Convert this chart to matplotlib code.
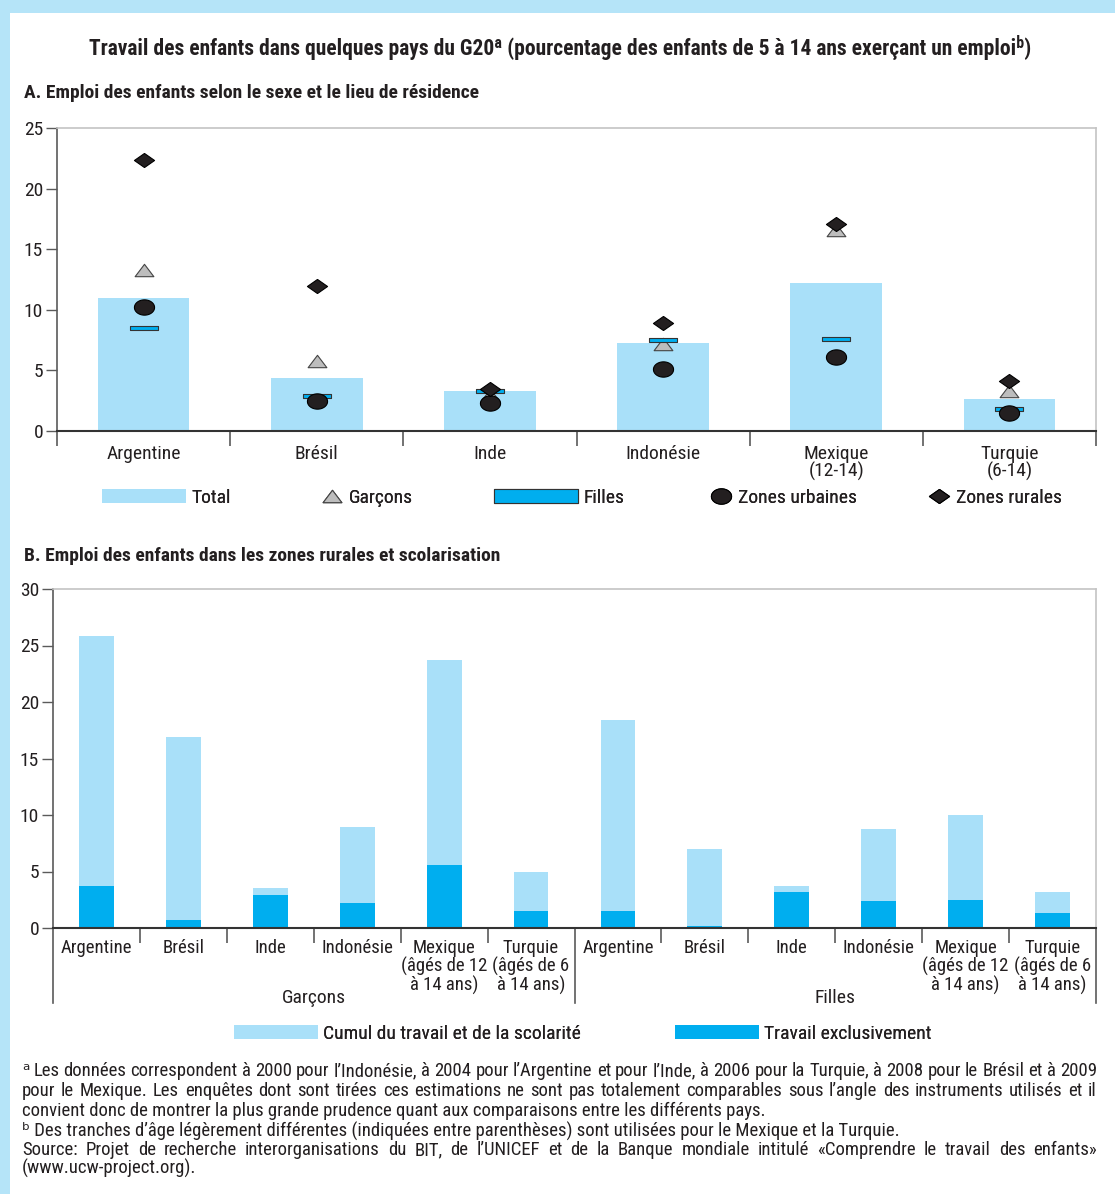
import numpy as np
import matplotlib
matplotlib.use("Agg")
import matplotlib.pyplot as plt
from matplotlib.path import Path
from matplotlib.patches import Patch, Rectangle
from matplotlib.lines import Line2D
from matplotlib import font_manager as fm
import matplotlib.transforms as mtransforms

# condensed face if the machine has one, DejaVu Sans otherwise
installed = {f.name for f in fm.fontManager.ttflist}
narrow = [f for f in ['Roboto Condensed', 'Liberation Sans Narrow', 'Archivo Narrow'] if f in installed]
plt.rcParams['font.family'] = narrow[:1] + ['DejaVu Sans']
fs = 13 if narrow else 10.5

# Panel A data
pays_a = ['Argentine', 'Brésil', 'Inde', 'Indonésie', 'Mexique\n(12-14)', 'Turquie\n(6-14)']
total = [11.0, 4.4, 3.3, 7.3, 12.2, 2.6]
garcons = [13.3, 5.8, 3.0, 7.2, 16.6, 3.3]
filles = [8.5, 2.9, 3.3, 7.5, 7.6, 1.8]
urbaines = [10.2, 2.5, 2.3, 5.1, 6.1, 1.5]
rurales = [22.4, 12.0, 3.5, 8.9, 17.1, 4.1]

# Panel B data
pays_b = ['Argentine', 'Brésil', 'Inde', 'Indonésie', 'Mexique\n(âgés de 12\nà 14 ans)',
          'Turquie\n(âgés de 6\nà 14 ans)']
groupes = ['Garçons', 'Filles']
excl_garcons = [3.7, 0.7, 2.9, 2.2, 5.6, 1.5]
cumul_garcons = [22.1, 16.2, 0.6, 6.7, 18.1, 3.5]
excl_filles = [1.5, 0.2, 3.2, 2.4, 2.5, 1.3]
cumul_filles = [16.9, 6.8, 0.5, 6.4, 7.5, 1.9]

# footnote lines and whether each is justified
notes = [
    ("ᵃ Les données correspondent à 2000 pour l’Indonésie, à 2004 pour l’Argentine et pour l’Inde, "
     "à 2006 pour la Turquie, à 2008 pour le Brésil et à 2009", True),
    ("pour le Mexique. Les enquêtes dont sont tirées ces estimations ne sont pas totalement comparables "
     "sous l’angle des instruments utilisés et il", True),
    ("convient donc de montrer la plus grande prudence quant aux comparaisons entre les différents pays.", False),
    ("ᵇ Des tranches d’âge légèrement différentes (indiquées entre parenthèses) sont utilisées pour "
     "le Mexique et la Turquie.", False),
    ("Source: Projet de recherche interorganisations du BIT, de l’UNICEF et de la Banque mondiale "
     "intitulé «Comprendre le travail des enfants»", True),
    ("(www.ucw-project.org).", False),
]

light = '#a9e0f9'
blue = '#00aeef'
dark = '#231f20'
grey_marker = '#bdbdbd'
frame = '#b5e4f8'

# custom markers
def closed(pts):
    pts = pts + [pts[0]]
    return Path(pts, [Path.MOVETO] + [Path.LINETO] * (len(pts) - 2) + [Path.CLOSEPOLY])

dash_m = closed([(-1, -0.18), (1, -0.18), (1, 0.18), (-1, 0.18)])
tri_m = closed([(-1, -0.66), (1, -0.66), (0, 0.66)])
th = np.linspace(0, 2 * np.pi, 60)
ell_m = Path(np.column_stack([np.cos(th), 0.76 * np.sin(th)]))
diam_m = closed([(-1, 0), (0, 0.7), (1, 0), (0, -0.7)])

fig = plt.figure(figsize=(11.15, 11.94), dpi=100)
W, H = 1115, 1194

# light blue frame band on top and left
fig.patches.append(Rectangle((0, 1 - 13 / H), 1, 13 / H, transform=fig.transFigure,
                             facecolor=frame, edgecolor='none', zorder=0))
fig.patches.append(Rectangle((0, 0), 10 / W, 1, transform=fig.transFigure,
                             facecolor=frame, edgecolor='none', zorder=0))

fig.text(560 / W, 1 - 48 / H,
         'Travail des enfants dans quelques pays du G20ᵃ (pourcentage des enfants de 5 à 14 ans exerçant un emploiᵇ)',
         ha='center', va='center', fontsize=fs + 2.5, fontweight='bold', color=dark)
fig.text(24 / W, 1 - 93 / H, 'A. Emploi des enfants selon le sexe et le lieu de résidence',
         ha='left', va='center', fontsize=fs + 1, fontweight='bold', color=dark)
fig.text(24 / W, 1 - 556 / H, 'B. Emploi des enfants dans les zones rurales et scolarisation',
         ha='left', va='center', fontsize=fs + 1, fontweight='bold', color=dark)


def style_axes(ax, pad):
    for s in ['top', 'right']:
        ax.spines[s].set_color('#c4c4c4')
        ax.spines[s].set_linewidth(1.2)
    ax.spines['left'].set_color('#5a5a5a')
    ax.spines['bottom'].set_color('#333333')
    ax.spines['left'].set_linewidth(1.2)
    ax.spines['bottom'].set_linewidth(1.5)
    ax.tick_params(axis='y', direction='out', length=8, width=1, color='#5a5a5a',
                   labelsize=fs + 1, labelcolor=dark, pad=2)
    ax.tick_params(axis='x', which='major', length=0, labelsize=fs + 1, labelcolor=dark, pad=pad)
    ax.tick_params(axis='x', which='minor', direction='out', length=11, width=1.2, color='#5a5a5a')


# ---- Panel A ----
axA = fig.add_axes([57 / W, 1 - 431 / H, (1096 - 57) / W, (431 - 128) / H])
xa = np.arange(len(pays_a))
axA.bar(xa, total, width=0.53, color=light, zorder=1)
sty_g = dict(linestyle='none', marker=tri_m, markersize=13.5, markerfacecolor=grey_marker,
             markeredgecolor='#444444', markeredgewidth=0.8)
sty_f = dict(linestyle='none', marker=dash_m, markersize=19.5, markerfacecolor=blue,
             markeredgecolor='#333333', markeredgewidth=0.8)
sty_u = dict(linestyle='none', marker=ell_m, markersize=14.5, markerfacecolor=dark,
             markeredgecolor='black', markeredgewidth=0.8)
sty_r = dict(linestyle='none', marker=diam_m, markersize=14.5, markerfacecolor=dark,
             markeredgecolor='black', markeredgewidth=0.8)
axA.plot(xa, garcons, zorder=3, **sty_g)
axA.plot(xa, filles, zorder=4, **sty_f)
axA.plot(xa, urbaines, zorder=5, **sty_u)
axA.plot(xa, rurales, zorder=6, **sty_r)
axA.set_xlim(-0.5, len(pays_a) - 0.5)
axA.set_ylim(0, 25)
axA.set_yticks(np.arange(0, 26, 5))
axA.set_xticks(xa)
axA.set_xticklabels(pays_a, linespacing=0.9)
axA.set_xticks(np.arange(-0.5, len(pays_a)), minor=True)
style_axes(axA, pad=10)

# legend A (one small legend per item so each keeps its own handle length)
legA = [
    (Patch(facecolor=light, edgecolor='none'), 'Total', 102, 4.3),
    (Line2D([], [], **sty_g), 'Garçons', 320, 1.2),
    (Patch(facecolor=blue, edgecolor='#333333', linewidth=0.8), 'Filles', 494, 4.3),
    (Line2D([], [], **sty_u), 'Zones urbaines', 709, 1.2),
    (Line2D([], [], **sty_r), 'Zones rurales', 927, 1.2),
]
for h, lab, px, hl in legA:
    lg = fig.legend(handles=[h], labels=[lab], loc='center left',
                    bbox_to_anchor=(px / W, 1 - 498 / H), frameon=False, fontsize=fs + 1,
                    handlelength=hl, handleheight=0.7, handletextpad=0.3, borderpad=0,
                    borderaxespad=0, labelcolor=dark)
    fig.add_artist(lg)

# ---- Panel B ----
axB = fig.add_axes([53 / W, 1 - 928 / H, (1096 - 53) / W, (928 - 589) / H])
xb_g = np.arange(len(pays_b))
xb_f = np.arange(len(pays_b)) + len(pays_b)
bw = 0.4
axB.bar(xb_g, excl_garcons, width=bw, color=blue, zorder=2)
axB.bar(xb_g, cumul_garcons, bottom=excl_garcons, width=bw, color=light, zorder=2)
axB.bar(xb_f, excl_filles, width=bw, color=blue, zorder=2)
axB.bar(xb_f, cumul_filles, bottom=excl_filles, width=bw, color=light, zorder=2)
n = 2 * len(pays_b)
axB.set_xlim(-0.5, n - 0.5)
axB.set_ylim(0, 30)
axB.set_yticks(np.arange(0, 31, 5))
axB.set_xticks(np.arange(n))
axB.set_xticklabels(pays_b + pays_b, linespacing=1.0)
axB.set_xticks([b for b in np.arange(0.5, n - 1) if b != len(pays_b) - 0.5], minor=True)
style_axes(axB, pad=8)
for lab in axB.get_xticklabels():
    lab.set_fontsize(fs + 0.5)

trans = mtransforms.blended_transform_factory(axB.transData, axB.transAxes)
for b in [-0.5, len(pays_b) - 0.5, n - 0.5]:
    axB.plot([b, b], [0, -0.222], transform=trans, color='#5a5a5a', linewidth=1.2, clip_on=False)
for i, g in enumerate(groupes):
    axB.text(i * len(pays_b) + (len(pays_b) - 1) / 2, -0.207, g, transform=trans,
             ha='center', va='center', fontsize=fs + 1, color=dark)

legB = [
    (Patch(facecolor=light, edgecolor='none'), 'Cumul du travail et de la scolarité', 234),
    (Patch(facecolor=blue, edgecolor='none'), 'Travail exclusivement', 675),
]
for h, lab, px in legB:
    lg = fig.legend(handles=[h], labels=[lab], loc='center left',
                    bbox_to_anchor=(px / W, 1 - 1034 / H), frameon=False, fontsize=fs + 1,
                    handlelength=4.3, handleheight=0.7, handletextpad=0.3, borderpad=0,
                    borderaxespad=0, labelcolor=dark)
    fig.add_artist(lg)

# ---- footnotes, justified like the source ----
renderer = fig.canvas.get_renderer()
x_left, x_right = 22, 1097
y_lines = [1071, 1091, 1111, 1131, 1150, 1168]
fn = fs + 0.5
for (line, just), yl in zip(notes, y_lines):
    if not just:
        fig.text(x_left / W, 1 - yl / H, line, ha='left', va='center', fontsize=fn, color=dark)
        continue
    words = line.split(' ')
    texts = [fig.text(0, 1 - yl / H, w, ha='left', va='center', fontsize=fn, color=dark)
             for w in words]
    widths = [t.get_window_extent(renderer).width for t in texts]
    gap = (x_right - x_left - sum(widths)) / (len(words) - 1)
    xpos = x_left
    for t, wd in zip(texts, widths):
        t.set_x(xpos / W)
        xpos += wd + gap

fig.savefig('out.png', dpi=100)
